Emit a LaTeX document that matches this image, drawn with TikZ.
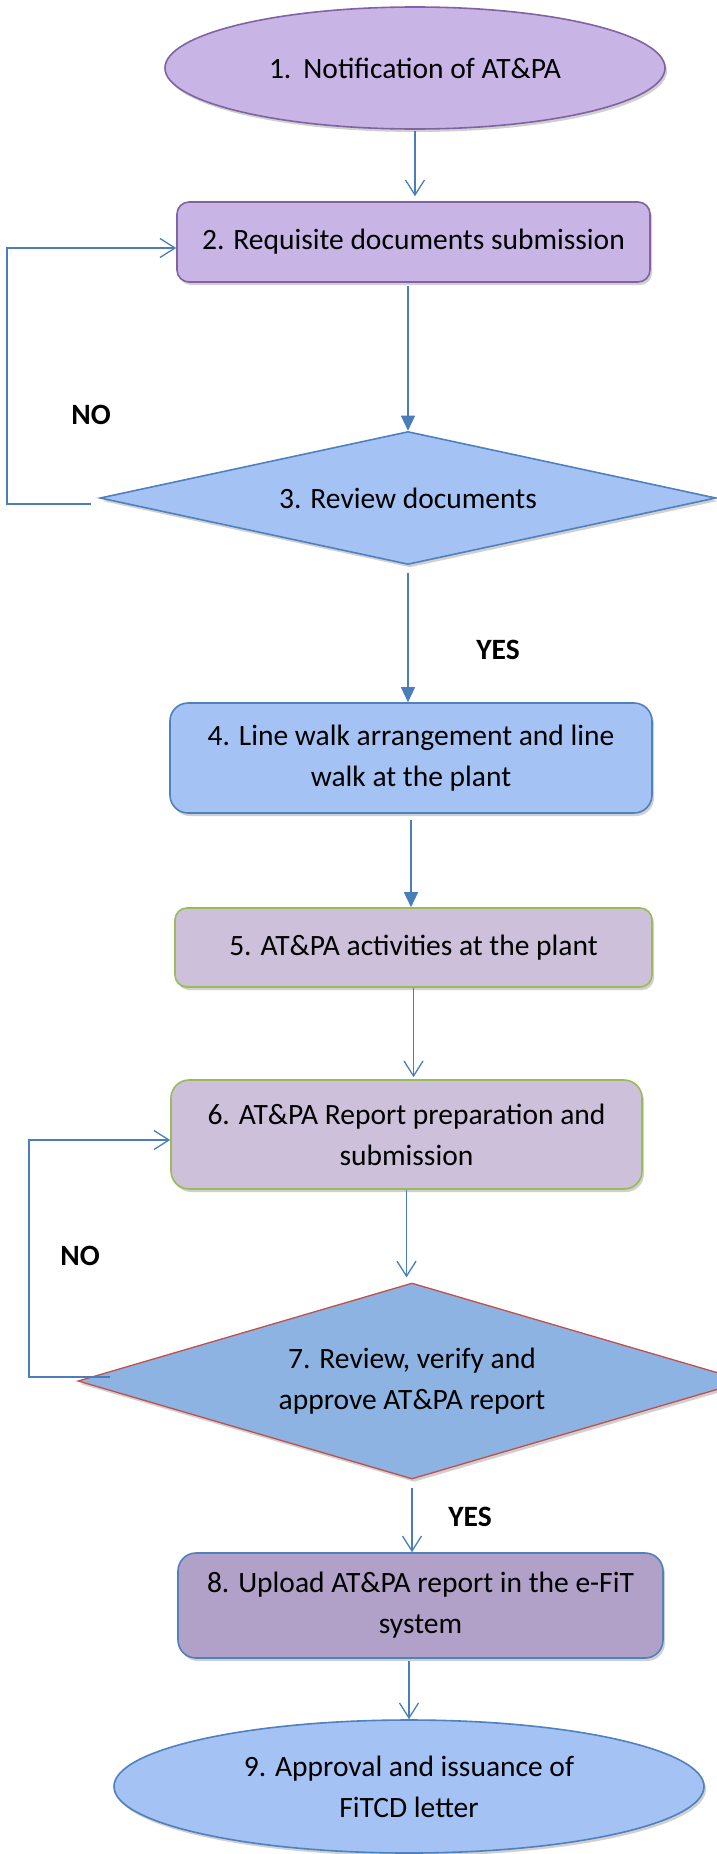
\documentclass[tikz,border=0pt]{standalone}
\usepackage{fontspec}
\setmainfont{Carlito}
\usetikzlibrary{shapes.geometric,arrows.meta,shadows}
\definecolor{lavfill}{HTML}{C8B5E6}
\definecolor{purpline}{HTML}{8064A2}
\definecolor{ltblue}{HTML}{A4C2F4}
\definecolor{blueline}{HTML}{4F81BD}
\definecolor{mauve}{HTML}{CCC0DA}
\definecolor{greenline}{HTML}{9BBB59}
\definecolor{midblue}{HTML}{8DB3E2}
\definecolor{redline}{HTML}{C0504D}
\definecolor{box8fill}{HTML}{B1A0C7}
\definecolor{linec}{HTML}{4A7EBB}
\begin{document}
\begin{tikzpicture}[x=1bp,y=-1bp,
  font=\fontsize{29.5bp}{41bp}\selectfont,
  shad/.style={drop shadow={shadow xshift=2bp,shadow yshift=-3bp,opacity=0.3,fill=black!60}},
  base/.style={line width=1.6bp,inner sep=0pt,align=center,shad},
  rbox/.style={base,rectangle,rounded corners=#1},
  ell/.style={base,ellipse},
  dia/.style={base,diamond},
  con/.style={draw=linec,line width=1.3bp},
  oarr/.style={-{Straight Barb[length=15bp,width=19bp]}},
  farr/.style={-{Triangle[length=15bp,width=14bp]}},
  lbl/.style={font=\fontsize{29.5bp}{41bp}\selectfont\bfseries}
]
\clip (0,0) rectangle (717,1854);
\fill[white] (0,0) rectangle (717,1854);

\node[ell,fill=lavfill,draw=purpline,minimum width=500bp,minimum height=122bp] (n1) at (415,68) {1.\hspace{12bp}Notification of AT\&PA};
\node[rbox=12bp,fill=lavfill,draw=purpline,minimum width=473bp,minimum height=80bp] (n2) at (413.5,242) {2. Requisite documents submission};
\node[dia,aspect=4.63,fill=ltblue,draw=blueline,minimum width=616bp,minimum height=133bp] (n3) at (408,498) {3. Review documents};
\node[rbox=18bp,fill=ltblue,draw=blueline,minimum width=482bp,minimum height=110bp] (n4) at (411,758) {4. Line walk arrangement and line\\walk at the plant};
\node[rbox=12bp,fill=mauve,draw=greenline,minimum width=477bp,minimum height=79bp] (n5) at (413.5,947.5) {5. AT\&PA activities at the plant};
\node[rbox=18bp,fill=mauve,draw=greenline,minimum width=471bp,minimum height=109bp] (n6) at (406.5,1134.5) {6. AT\&PA Report preparation and\\submission};
\node[dia,aspect=3.41,fill=midblue,draw=redline,line width=1.3bp,minimum width=668bp,minimum height=196bp] (n7) at (412,1381) {7. Review, verify and\\approve AT\&PA report};
\node[rbox=18bp,fill=box8fill,draw=blueline,minimum width=485bp,minimum height=105bp] (n8) at (420.5,1605.5) {8. Upload AT\&PA report in the e-FiT\\system};
\node[ell,fill=ltblue,draw=blueline,minimum width=590bp,minimum height=133bp] (n9) at (409,1786.5) {9. Approval and issuance of\\FiTCD letter};

% main flow
\draw[con,oarr,shorten <=1bp,shorten >=5bp] (n1.south) -- (n1.south |- n2.north);
\draw[con,farr,shorten <=3bp] (n3.north |- n2.south) -- (n3.north);
\draw[con,farr,shorten <=8bp] (n3.south) -- (n3.south |- n4.north);
\draw[con,farr,shorten <=6bp] (n4.south) -- (n4.south |- n5.north);
\draw[con,oarr,shorten >=2bp] (n5.south) -- (n5.south |- n6.north);
\draw[con,oarr,shorten >=5bp] (n6.south) -- (n6.south |- n7.north);
\draw[con,oarr,shorten <=8bp] (n7.south) -- (n7.south |- n8.north);
\draw[con,oarr,shorten <=2bp] (n9.north |- n8.south) -- (n9.north);

% loop 1
\coordinate (l1a) at (91,504);
\coordinate (l1b) at (7,504);
\coordinate (l1c) at (7,248);
\draw[con,oarr] (l1a) -- (l1b) -- (l1c) -- (l1c -| n2.west);
% loop 2
\coordinate (l2a) at (110,1377);
\coordinate (l2b) at (29,1377);
\coordinate (l2c) at (29,1140);
\draw[con,oarr] (l2a) -- (l2b) -- (l2c) -- (l2c -| n6.west);

% labels
\node[lbl] (no1) at (91,415) {NO};
\node[lbl] (yes1) at (498,650) {YES};
\node[lbl] (no2) at (80,1256) {NO};
\node[lbl] (yes2) at (470,1517) {YES};
\end{tikzpicture}
\end{document}
